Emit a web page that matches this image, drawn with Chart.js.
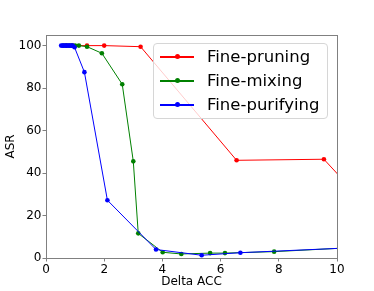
<!DOCTYPE html>
<html>
<head>
<meta charset="utf-8">
<script src="https://cdn.jsdelivr.net/npm/chart.js@4"></script>
<style>
  html, body { margin: 0; padding: 0; background: #fff; }
  #wrap { position: relative; width: 374px; height: 291px; }
  #legend { position: absolute; left: 153px; top: 43px; width: 175px; height: 76px;
    background: rgba(255,255,255,0.8); border: 1px solid #d6d6d6; border-radius: 4px;
    font-family: "DejaVu Sans", sans-serif; font-size: 16.5px; color: #000; box-sizing: border-box; }
  .row { position: absolute; left: 0; height: 20px; width: 100%; }
  .hl { position: absolute; left: 6px; width: 34px; top: 10px; height: 1.5px; }
  .hd { position: absolute; left: 20.5px; top: 8px; width: 5px; height: 5px; border-radius: 50%; }
  .lt { position: absolute; left: 53px; top: 0px; line-height: 21px; white-space: nowrap; }
</style>
</head>
<body>
<div id="wrap">
  <canvas id="c" width="374" height="291"></canvas>
  <div id="legend"></div>
</div>
<script>
const seriesNames = ["Fine-pruning", "Fine-mixing", "Fine-purifying"];
const seriesColors = ["#ff0000", "#008000", "#0000ff"];

const pruningX = [0.7, 0.9, 1.41, 2.0, 3.25, 6.55, 9.55, 11.0];
const pruningY = [100, 100, 100, 100, 99.5, 46, 46.5, 25];

const mixingX = [0.6, 0.7, 0.8, 0.9, 1.0, 1.13, 1.41, 1.92, 2.62, 3.0, 3.17, 4.01, 4.65, 5.64, 6.15, 7.84, 10.4];
const mixingY = [100, 100, 100, 100, 100, 100, 99.5, 96.4, 81.8, 45.5, 11.6, 2.7, 1.9, 2.3, 2.3, 3.0, 4.8];

const purifyingX = [0.52, 0.57, 0.62, 0.67, 0.72, 0.77, 0.82, 0.87, 0.92, 0.98, 1.32, 2.11, 3.78, 5.35, 6.68, 10.4];
const purifyingY = [100, 100, 100, 100, 100, 100, 100, 100, 100, 99.2, 87.5, 27.2, 4.0, 1.3, 2.5, 4.75];

const xTicks = [0, 2, 4, 6, 8, 10];
const yTicks = [0, 20, 40, 60, 80, 100];

function pts(xs, ys) { return xs.map((x, i) => ({x: x, y: ys[i]})); }
const allX = [pruningX, mixingX, purifyingX];
const allY = [pruningY, mixingY, purifyingY];

const datasets = seriesNames.map((n, i) => ({
  label: n,
  data: pts(allX[i], allY[i]),
  showLine: true,
  borderColor: seriesColors[i],
  backgroundColor: seriesColors[i],
  borderWidth: 1,
  pointRadius: 2.3,
  pointBorderWidth: 0,
  pointHoverRadius: 2.3,
  order: 3 - i
}));

const frame = {
  id: 'frame',
  afterDraw(chart) {
    const a = chart.chartArea, ctx = chart.ctx;
    ctx.save();
    ctx.strokeStyle = '#808080';
    ctx.lineWidth = 1;
    ctx.strokeRect(Math.round(a.left) + 0.5, Math.round(a.top) + 0.5,
      Math.round(a.right - a.left), Math.round(a.bottom - a.top));
    ctx.restore();
  }
};

const font = { family: "DejaVu Sans", size: 12 };

new Chart(document.getElementById('c'), {
  type: 'scatter',
  data: { datasets },
  plugins: [frame],
  options: {
    responsive: false,
    animation: false,
    events: [],
    layout: { padding: { top: 35, right: 37, left: 0, bottom: 0 } },
    plugins: { legend: { display: false }, tooltip: { enabled: false } },
    scales: {
      x: {
        type: 'linear', min: 0, max: 10,
        afterFit(s) { s.height = 33; },
        afterBuildTicks(s) { s.ticks = xTicks.map(v => ({value: v})); },
        ticks: { font, color: '#000', padding: 1, maxRotation: 0, includeBounds: false },
        grid: { drawOnChartArea: false, drawTicks: true, tickLength: 3.5, color: '#808080' },
        border: { display: false },
        title: { display: true, text: 'Delta ACC', font, color: '#000', padding: { top: 0, bottom: 2 } }
      },
      y: {
        type: 'linear', min: 0, max: 105,
        afterFit(s) { s.width = 46; },
        afterBuildTicks(s) { s.ticks = yTicks.map(v => ({value: v})); },
        ticks: { font, color: '#000', padding: 1, includeBounds: false },
        grid: { drawOnChartArea: false, drawTicks: true, tickLength: 3.5, color: '#808080' },
        border: { display: false },
        title: { display: true, text: 'ASR', font, color: '#000', padding: { top: 4, bottom: 0 } }
      }
    }
  }
});

const leg = document.getElementById('legend');
const rowTops = [2, 26, 50];
seriesNames.forEach((n, i) => {
  const r = document.createElement('div');
  r.className = 'row';
  r.style.top = rowTops[i] + 'px';
  r.innerHTML = '<div class="hl" style="background:' + seriesColors[i] + '"></div>' +
    '<div class="hd" style="background:' + seriesColors[i] + '"></div>' +
    '<div class="lt">' + n + '</div>';
  leg.appendChild(r);
});
</script>
</body>
</html>
